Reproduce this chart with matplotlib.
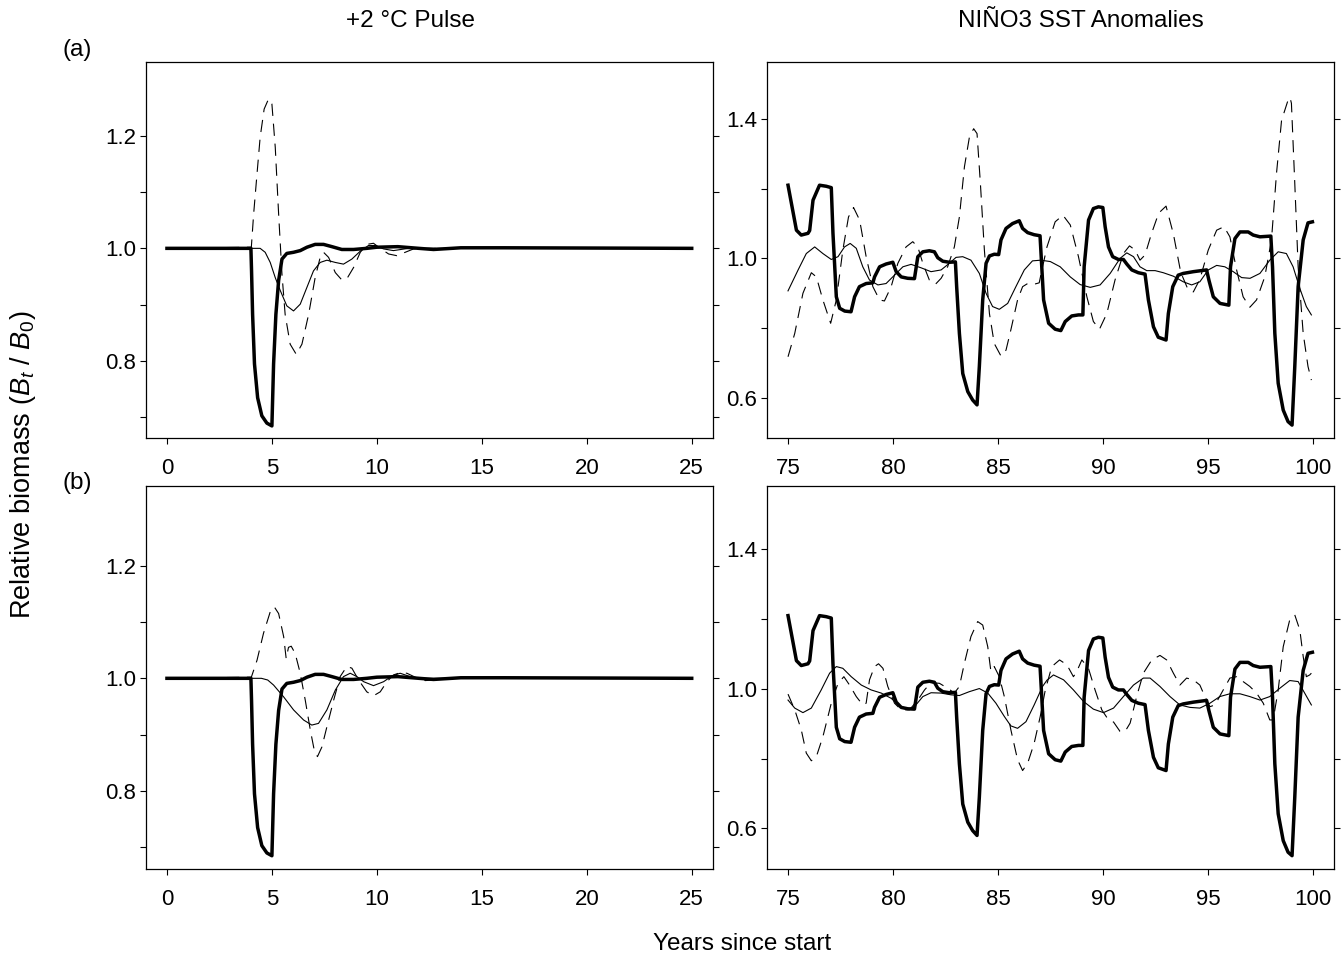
import matplotlib
matplotlib.use("Agg")
import matplotlib.pyplot as plt
import numpy as np

plt.rcParams['font.family'] = ['Liberation Sans', 'DejaVu Sans']
plt.rcParams['mathtext.fontset'] = 'custom'
plt.rcParams['mathtext.rm'] = 'Liberation Sans'
plt.rcParams['mathtext.it'] = 'Liberation Sans:italic'

# ---- +2 C pulse runs (years 0-25) ----
pulse_thick = [(0, 1.0), (4.0, 1.0), (4.03, 0.96), (4.08, 0.883), (4.17, 0.795), (4.32, 0.735),
               (4.52, 0.703), (4.76, 0.69), (5.0, 0.685), (5.08, 0.795), (5.19, 0.883), (5.32, 0.943),
               (5.48, 0.981), (5.71, 0.991), (6.03, 0.993), (6.35, 0.996), (6.67, 1.002), (7.06, 1.007),
               (7.46, 1.007), (7.86, 1.003), (8.33, 0.998), (8.89, 0.998), (9.52, 1.0), (10.0, 1.002),
               (11.0, 1.003), (12.0, 1.0), (12.7, 0.998), (14.0, 1.001), (16.0, 1.001), (25.0, 1.0)]

pulse_thin_a = [(0, 1.0), (4.44, 1.0), (4.68, 0.993), (4.92, 0.975), (5.16, 0.948), (5.4, 0.925),
                (5.71, 0.898), (6.03, 0.889), (6.35, 0.901), (6.67, 0.931), (6.98, 0.96), (7.3, 0.975),
                (7.62, 0.979), (8.02, 0.975), (8.41, 0.972), (8.81, 0.981), (9.21, 0.995), (9.6, 1.005),
                (9.92, 1.005), (10.32, 0.999), (10.79, 0.996), (11.5, 1.0), (25.0, 1.0)]

pulse_dash_a = [(0, 1.0), (4.02, 1.002), (4.13, 1.061), (4.29, 1.132), (4.44, 1.197), (4.63, 1.247),
                (4.84, 1.265), (5.0, 1.256), (5.16, 1.179), (5.32, 1.061), (5.48, 0.954), (5.63, 0.883),
                (5.87, 0.83), (6.16, 0.812), (6.43, 0.83), (6.75, 0.883), (7.06, 0.948), (7.3, 0.984),
                (7.46, 0.993), (7.7, 0.984), (8.02, 0.957), (8.33, 0.944), (8.57, 0.946), (8.89, 0.966),
                (9.21, 0.993), (9.52, 1.007), (9.84, 1.009), (10.16, 1.0), (10.56, 0.99), (10.95, 0.987),
                (11.35, 0.993), (11.75, 0.999), (12.5, 1.0), (25.0, 1.0)]

pulse_thin_b = [(0, 1.0), (4.5, 1.0), (4.8, 0.997), (5.08, 0.988), (5.56, 0.967), (6.03, 0.944),
                (6.51, 0.926), (6.9, 0.917), (7.22, 0.92), (7.62, 0.944), (8.02, 0.979), (8.41, 1.003),
                (8.73, 1.009), (9.05, 1.003), (9.37, 0.994), (9.84, 0.987), (10.32, 0.994), (10.71, 1.004),
                (11.11, 1.009), (11.51, 1.004), (11.9, 1.0), (25.0, 1.0)]

pulse_dash_b = [(0, 1.0), (4.02, 1.002), (4.29, 1.032), (4.6, 1.08), (4.92, 1.118), (5.11, 1.127),
                (5.32, 1.115), (5.56, 1.074), (5.68, 1.035), (5.79, 1.055), (5.92, 1.057), (6.11, 1.044),
                (6.35, 1.009), (6.59, 0.961), (6.83, 0.908), (7.03, 0.87), (7.17, 0.861), (7.38, 0.878),
                (7.62, 0.914), (7.94, 0.961), (8.25, 1.003), (8.57, 1.021), (8.81, 1.018), (9.13, 0.997),
                (9.52, 0.976), (9.84, 0.969), (10.16, 0.976), (10.48, 0.994), (10.79, 1.006), (11.11, 1.01),
                (11.43, 1.009), (11.83, 1.002), (12.3, 0.996), (12.7, 0.997), (13.5, 1.001), (25.0, 1.0)]

# ---- NINO3 SST anomaly runs (years 75-100) ----
nino_thick = [(75, 1.21), (75.4, 1.081), (75.63, 1.067), (75.95, 1.072), (76.03, 1.08), (76.19, 1.167),
              (76.5, 1.21), (76.82, 1.207), (77.06, 1.203), (77.14, 1.072), (77.3, 0.89), (77.46, 0.857),
              (77.7, 0.849), (78.0, 0.847), (78.17, 0.89), (78.4, 0.919), (78.72, 0.928), (79.04, 0.93),
              (79.12, 0.947), (79.36, 0.976), (79.67, 0.984), (79.99, 0.989), (80.15, 0.962), (80.39, 0.947),
              (80.7, 0.943), (81.02, 0.942), (81.18, 1.005), (81.42, 1.019), (81.73, 1.022), (81.97, 1.019),
              (82.13, 1.002), (82.37, 0.992), (82.68, 0.989), (82.97, 0.99), (83.03, 0.919), (83.16, 0.785),
              (83.32, 0.67), (83.56, 0.618), (83.79, 0.594), (84.0, 0.58), (84.11, 0.69), (84.27, 0.881),
              (84.43, 0.986), (84.59, 1.007), (84.82, 1.012), (85.03, 1.011), (85.14, 1.053), (85.38, 1.086),
              (85.69, 1.1), (86.01, 1.108), (86.17, 1.086), (86.41, 1.074), (86.72, 1.068), (87.0, 1.065),
              (87.17, 0.881), (87.41, 0.814), (87.72, 0.797), (87.99, 0.793), (88.2, 0.819), (88.51, 0.835),
              (88.83, 0.838), (89.04, 0.838), (89.1, 0.976), (89.31, 1.11), (89.54, 1.143), (89.78, 1.148),
              (89.99, 1.146), (90.1, 1.091), (90.26, 1.033), (90.46, 1.005), (90.73, 0.997), (90.97, 0.997),
              (91.13, 0.984), (91.37, 0.967), (91.68, 0.959), (92.0, 0.955), (92.16, 0.881), (92.4, 0.804),
              (92.63, 0.774), (93.0, 0.766), (93.11, 0.842), (93.32, 0.919), (93.58, 0.952), (93.82, 0.957),
              (94.3, 0.962), (94.93, 0.967), (95.04, 0.938), (95.25, 0.89), (95.57, 0.871), (95.99, 0.866),
              (96.07, 0.976), (96.28, 1.057), (96.52, 1.076), (96.91, 1.076), (97.15, 1.067), (97.47, 1.062),
              (97.99, 1.064), (98.07, 0.976), (98.18, 0.785), (98.34, 0.642), (98.58, 0.565), (98.81, 0.532),
              (99.0, 0.522), (99.13, 0.69), (99.29, 0.919), (99.53, 1.053), (99.76, 1.102), (99.97, 1.105)]

nino_thin_a = [(75, 0.907), (75.48, 0.967), (75.87, 1.014), (76.27, 1.033), (76.66, 1.014), (77.06, 0.997),
               (77.38, 1.005), (77.69, 1.033), (77.96, 1.043), (78.25, 1.029), (78.56, 0.976), (78.88, 0.938),
               (79.28, 0.924), (79.67, 0.928), (80.07, 0.952), (80.47, 0.976), (80.86, 0.983), (81.34, 0.973),
               (81.81, 0.962), (82.29, 0.967), (82.68, 0.986), (83.0, 1.003), (83.32, 1.005), (83.71, 0.995),
               (84.11, 0.957), (84.43, 0.9), (84.74, 0.862), (85.06, 0.854), (85.46, 0.871), (85.85, 0.919),
               (86.25, 0.967), (86.64, 0.993), (87.04, 0.995), (87.49, 0.991), (87.96, 0.976), (88.44, 0.947),
               (88.91, 0.925), (89.39, 0.917), (89.86, 0.924), (90.34, 0.957), (90.81, 1.0), (91.13, 1.016),
               (91.45, 1.005), (91.76, 0.976), (92.08, 0.965), (92.48, 0.965), (92.87, 0.959), (93.35, 0.949),
               (93.82, 0.933), (94.22, 0.924), (94.61, 0.933), (95.01, 0.967), (95.41, 0.98), (95.8, 0.976),
               (96.2, 0.962), (96.6, 0.945), (97.0, 0.943), (97.47, 0.957), (97.94, 0.995), (98.34, 1.019),
               (98.73, 1.014), (99.05, 0.976), (99.37, 0.914), (99.68, 0.862), (99.92, 0.838)]

nino_dash_a = [(75, 0.718), (75.32, 0.785), (75.71, 0.9), (76.11, 0.959), (76.35, 0.947), (76.66, 0.881),
               (77.03, 0.814), (77.3, 0.881), (77.61, 1.024), (77.88, 1.119), (78.12, 1.146), (78.41, 1.11),
               (78.72, 1.005), (79.04, 0.919), (79.36, 0.881), (79.59, 0.878), (79.91, 0.919), (80.23, 0.986),
               (80.62, 1.033), (80.94, 1.048), (81.18, 1.033), (81.42, 0.986), (81.73, 0.938), (82.02, 0.926),
               (82.29, 0.943), (82.6, 0.976), (82.92, 1.033), (83.16, 1.119), (83.4, 1.263), (83.64, 1.349),
               (83.84, 1.372), (84.0, 1.358), (84.16, 1.215), (84.35, 1.024), (84.59, 0.842), (84.82, 0.756),
               (85.14, 0.72), (85.38, 0.737), (85.61, 0.795), (85.93, 0.881), (86.17, 0.919), (86.41, 0.928),
               (86.72, 0.926), (86.96, 0.93), (87.1, 0.97), (87.33, 1.033), (87.72, 1.105), (88.09, 1.124),
               (88.44, 1.096), (88.83, 1.005), (89.23, 0.89), (89.54, 0.819), (89.83, 0.797), (90.18, 0.842),
               (90.57, 0.938), (90.97, 1.014), (91.26, 1.036), (91.53, 1.024), (91.76, 0.995), (92.0, 1.01),
               (92.3, 1.07), (92.65, 1.13), (93.0, 1.15), (93.35, 1.07), (93.7, 0.96), (94.06, 0.909),
               (94.3, 0.904), (94.61, 0.94), (95.01, 1.024), (95.41, 1.081), (95.76, 1.091), (96.04, 1.062),
               (96.36, 0.967), (96.67, 0.89), (96.99, 0.86), (97.31, 0.881), (97.7, 0.947), (98.02, 1.053),
               (98.26, 1.244), (98.5, 1.396), (98.81, 1.454), (98.9, 1.462), (98.97, 1.445), (99.13, 1.215),
               (99.29, 0.976), (99.53, 0.785), (99.76, 0.69), (99.92, 0.651)]

nino_thin_b = [(75, 0.968), (75.32, 0.945), (75.71, 0.932), (76.11, 0.945), (76.58, 0.997), (76.98, 1.045),
               (77.3, 1.064), (77.61, 1.059), (78.01, 1.035), (78.49, 1.011), (78.96, 0.997), (79.44, 0.988),
               (79.91, 0.973), (80.39, 0.949), (80.7, 0.942), (81.02, 0.949), (81.42, 0.978), (81.81, 0.989),
               (82.29, 0.988), (82.76, 0.983), (83.16, 0.981), (83.63, 0.992), (84.11, 1.001), (84.51, 0.988),
               (84.9, 0.959), (85.3, 0.921), (85.61, 0.894), (85.93, 0.887), (86.33, 0.906), (86.72, 0.954),
               (87.12, 1.007), (87.33, 1.025), (87.64, 1.04), (88.12, 1.026), (88.59, 0.997), (89.07, 0.964),
               (89.54, 0.942), (90.02, 0.932), (90.5, 0.945), (90.97, 0.978), (91.45, 1.011), (91.92, 1.031),
               (92.24, 1.031), (92.71, 1.007), (93.19, 0.978), (93.66, 0.954), (94.14, 0.947), (94.61, 0.945),
               (95.09, 0.959), (95.56, 0.978), (96.04, 0.986), (96.52, 0.986), (96.99, 0.978), (97.47, 0.968),
               (97.94, 0.978), (98.42, 1.002), (98.89, 1.024), (99.29, 1.021), (99.6, 0.988), (99.92, 0.954)]

nino_dash_b = [(75, 0.985), (75.32, 0.94), (75.63, 0.883), (75.87, 0.816), (76.11, 0.794), (76.35, 0.806),
               (76.66, 0.863), (77.06, 0.959), (77.38, 1.016), (77.66, 1.035), (77.93, 1.011), (78.25, 0.978),
               (78.56, 0.954), (78.72, 0.959), (78.88, 1.026), (79.12, 1.064), (79.31, 1.072), (79.52, 1.059),
               (79.75, 1.007), (80.07, 0.959), (80.39, 0.94), (80.78, 0.94), (81.18, 0.968), (81.5, 0.997),
               (81.81, 1.018), (82.21, 1.016), (82.6, 1.002), (82.92, 0.988), (83.16, 1.007), (83.4, 1.074),
               (83.71, 1.15), (84.03, 1.193), (84.27, 1.183), (84.51, 1.121), (84.66, 1.05), (84.82, 1.064),
               (85.06, 1.035), (85.3, 0.978), (85.61, 0.883), (85.93, 0.797), (86.17, 0.766), (86.41, 0.787),
               (86.72, 0.844), (87.01, 0.921), (87.25, 0.997), (87.56, 1.064), (87.93, 1.083), (88.28, 1.069),
               (88.59, 1.035), (88.75, 1.05), (88.99, 1.083), (89.3, 1.06), (89.62, 0.997), (89.94, 0.94),
               (90.26, 0.911), (90.5, 0.905), (90.81, 0.878), (91.05, 0.878), (91.29, 0.902), (91.6, 0.978),
               (91.92, 1.045), (92.32, 1.083), (92.71, 1.096), (93.03, 1.083), (93.35, 1.045), (93.66, 1.011),
               (93.98, 1.031), (94.3, 1.026), (94.61, 1.011), (94.85, 0.978), (95.09, 0.949), (95.33, 0.954),
               (95.64, 0.988), (96.04, 1.031), (96.36, 1.035), (96.67, 1.021), (96.99, 1.007), (97.31, 0.988),
               (97.63, 0.959), (97.94, 0.911), (98.1, 0.911), (98.34, 0.997), (98.58, 1.121), (98.89, 1.198),
               (99.13, 1.212), (99.37, 1.169), (99.53, 1.093), (99.68, 1.035), (99.84, 1.04), (99.92, 1.045)]

left_xticks = [0, 5, 10, 15, 20, 25]
right_xticks = [75, 80, 85, 90, 95, 100]
left_yticks = [0.7, 0.8, 0.9, 1.0, 1.1, 1.2]
left_ylabels = ['', '0.8', '', '1.0', '', '1.2']
right_yticks = [0.6, 0.8, 1.0, 1.2, 1.4]
right_ylabels = ['0.6', '', '1.0', '', '1.4']


def draw(ax, thick, thin, dash):
    # dashed and thin first, thick line on top
    x, y = zip(*dash)
    ax.plot(x, y, color='black', lw=0.8, linestyle=(0, (11, 7)))
    x, y = zip(*thin)
    ax.plot(x, y, color='black', lw=0.8)
    x, y = zip(*thick)
    ax.plot(x, y, color='black', lw=2.5, solid_joinstyle='round')


def style(ax, xlim, ylim, xticks, yticks, ylabels):
    ax.set_xlim(*xlim)
    ax.set_ylim(*ylim)
    ax.set_xticks(xticks)
    ax.set_yticks(yticks)
    ax.set_yticklabels(ylabels)
    ax.tick_params(direction='out', length=4.3, width=0.8, labelsize=16, colors='black')
    ax.tick_params(axis='x', pad=10)
    ax.tick_params(axis='y', pad=3, right=True)
    for s in ax.spines.values():
        s.set_linewidth(0.9)


fig = plt.figure(figsize=(13.44, 9.6), dpi=100)

ax_a1 = fig.add_axes([0.1086, 0.5434, 0.4217, 0.3917])
ax_a2 = fig.add_axes([0.5707, 0.5434, 0.4219, 0.3917])
ax_b1 = fig.add_axes([0.1086, 0.0945, 0.4217, 0.3996])
ax_b2 = fig.add_axes([0.5707, 0.0945, 0.4219, 0.3996])

draw(ax_a1, pulse_thick, pulse_thin_a, pulse_dash_a)
draw(ax_b1, pulse_thick, pulse_thin_b, pulse_dash_b)
draw(ax_a2, nino_thick, nino_thin_a, nino_dash_a)
draw(ax_b2, nino_thick, nino_thin_b, nino_dash_b)

style(ax_a1, (-1, 26), (0.663, 1.330), left_xticks, left_yticks, left_ylabels)
style(ax_b1, (-1, 26), (0.661, 1.342), left_xticks, left_yticks, left_ylabels)
style(ax_a2, (74, 101), (0.484, 1.5625), right_xticks, right_yticks, right_ylabels)
style(ax_b2, (74, 101), (0.483, 1.5825), right_xticks, right_yticks, right_ylabels)

fs = 17.5
fig.text(410 / 1344, 1 - 21 / 960, '+2 °C Pulse', ha='center', va='center', fontsize=fs)
fig.text(1081 / 1344, 1 - 21 / 960, 'NIÑO3 SST Anomalies', ha='center', va='center', fontsize=fs)
fig.text(77 / 1344, 1 - 50 / 960, '(a)', ha='center', va='center', fontsize=fs)
fig.text(77 / 1344, 1 - 483 / 960, '(b)', ha='center', va='center', fontsize=fs)
fig.text(23 / 1344, 1 - 465 / 960, r'Relative biomass ($B_t$ / $B_0$)', rotation=90,
         ha='center', va='center', fontsize=19.5)
fig.text(742 / 1344, 1 - 944 / 960, 'Years since start', ha='center', va='center', fontsize=fs)

fig.savefig('out.png', dpi=100)
